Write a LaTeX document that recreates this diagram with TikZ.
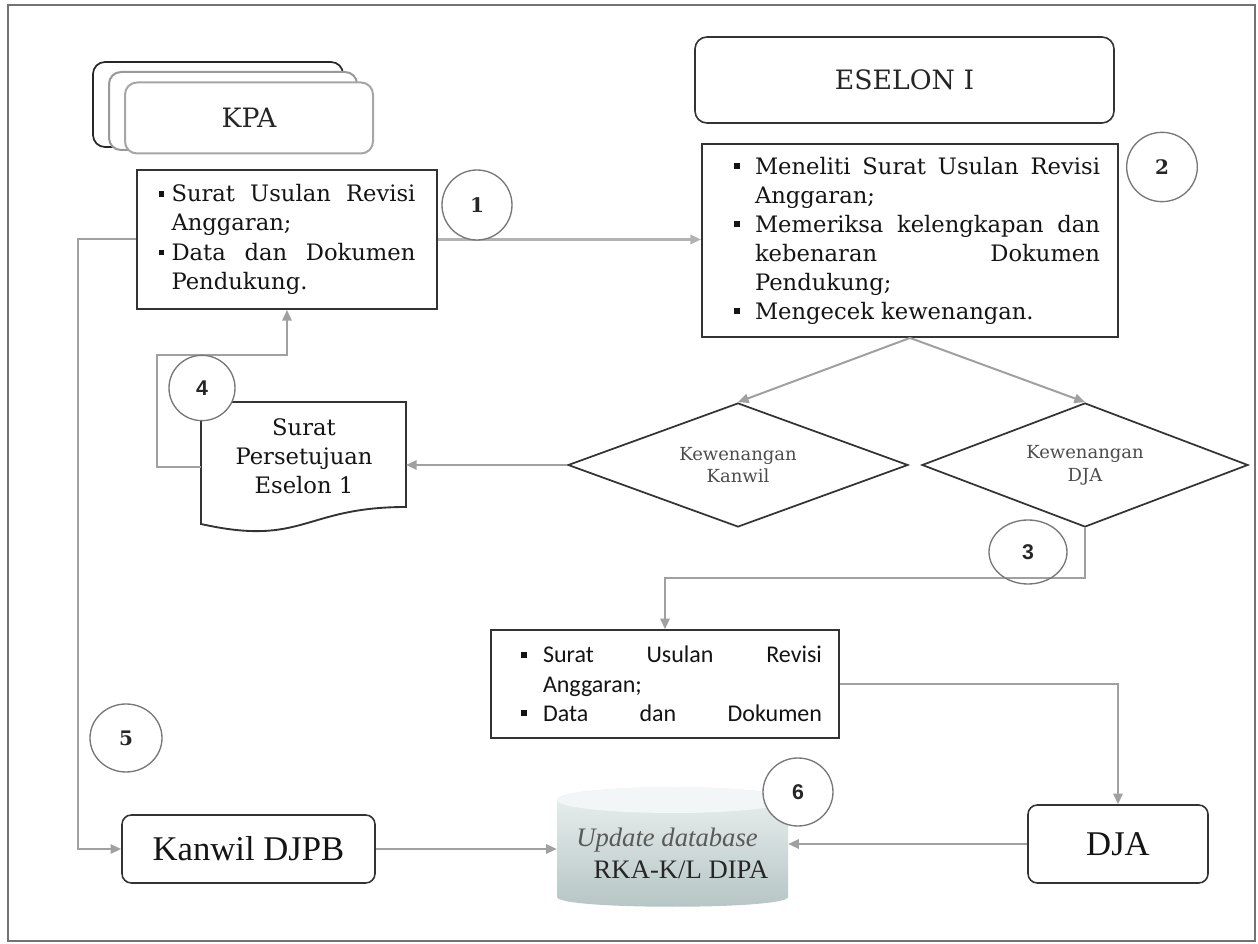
\documentclass[tikz,border=0pt]{standalone}
\usepackage{fontspec}
\usetikzlibrary{shapes.geometric,arrows.meta}
\newfontfamily\lsans{Liberation Sans}
\newfontfamily\lserif{Liberation Serif}
\newfontfamily\carlito{Carlito}
\newfontfamily\bk{DejaVu Serif}
\newcommand\bls[3]{\makebox[#1][l]{\rule[.22em]{.25em}{.25em}}\makebox[#2][s]{#3}}
\newcommand\bln[2]{\makebox[#1][l]{\rule[.22em]{.25em}{.25em}}#2}
\definecolor{linegray}{HTML}{A0A0A0}
\definecolor{boxline}{HTML}{333333}
\definecolor{numline}{HTML}{777777}
\definecolor{dbtop}{HTML}{EEF2F2}
\definecolor{dbbot}{HTML}{B5C4C4}
\tikzset{
  box/.style={draw=boxline, line width=1.4pt, fill=white, inner ysep=0pt, text=black!92},
  rbox/.style={box, rounded corners=7pt, line width=1.2pt},
  arr/.style={draw=linegray, line width=1.5pt, -{Triangle[length=8pt,width=7pt]}},
  num/.style={ellipse, draw=numline, line width=1pt, fill=white, inner sep=0pt, text=black!85},
  dia/.style={diamond, draw=boxline, line width=1.3pt, aspect=2.7, inner sep=0pt, align=center, text=black!70, font=\bk\fontsize{13.5}{17}\selectfont},
}
\begin{document}
\begin{tikzpicture}[x=0.75pt,y=-0.75pt]
\useasboundingbox (0,0) rectangle (1258,944);
\draw[draw=black!55, line width=1.2pt] (8,5) rectangle (1255,941);

% KPA stack
\draw[rounded corners=9pt, draw=black!85, line width=1.3pt, fill=white] (93,62) rectangle (343,147);
\draw[rounded corners=9pt, draw=black!40, line width=1.5pt, fill=white] (109,72) rectangle (357,150);
\node[draw=black!35, line width=1.5pt, fill=white, rounded corners=9pt, minimum width=186pt, minimum height=53.25pt, text=black!85, font=\bk\fontsize{20}{24}\selectfont] (kpa) at (249,118) {KPA};

% ESELON I
\node[rbox, rounded corners=9pt, minimum width=314.25pt, minimum height=64.5pt, text=black!85, font=\bk\fontsize{20}{24}\selectfont] (es) at (904.5,80) {ESELON I};

% Box 1
\node[box, minimum width=225pt, minimum height=104.25pt, text width=192.75pt, inner xsep=16.125pt, align=flush left, font=\bk\fontsize{17}{22}\selectfont] (b1) at (287,239.5) {%
\bls{9.75pt}{183pt}{Surat Usulan Revisi}\\
\hspace*{9.75pt}Anggaran;\\
\bls{9.75pt}{183pt}{Data dan Dokumen}\\
\hspace*{9.75pt}Pendukung.};

% Box 2
\node[box, minimum width=312pt, minimum height=144.75pt, text width=285pt, inner xsep=13.5pt, align=flush left, font=\bk\fontsize{17}{21.75}\selectfont] (b2) at (910,240.5) {%
\hspace*{10.5pt}\bls{15.75pt}{258.75pt}{Meneliti Surat Usulan Revisi}\\
\hspace*{26.25pt}Anggaran;\\
\hspace*{10.5pt}\bls{15.75pt}{258.75pt}{Memeriksa kelengkapan dan}\\
\hspace*{26.25pt}\makebox[258.75pt][s]{kebenaran Dokumen}\\
\hspace*{26.25pt}Pendukung;\\
\hspace*{10.5pt}\bln{15.75pt}{Mengecek kewenangan.}};

% Diamonds
\node[dia, minimum width=255pt, minimum height=93pt] (kan) at (738,465) {Kewenangan\\Kanwil};
\node[dia, minimum width=244.5pt, minimum height=93pt] (dja) at (1085,465) {Kewenangan\\DJA};

% Document shape
\draw[draw=boxline, line width=1.4pt, fill=white] (201,402) -- (406,402) -- (406,507) .. controls (303.5,507) and (303.5,547) .. (201,524) -- cycle;
\node[align=center, text=black!92, font=\bk\fontsize{17}{21.75}\selectfont] (doc) at (304,456) {Surat\\Persetujuan\\Eselon 1};
\coordinate (docr) at (406,465);
\coordinate (docl) at (201,467);

% Box 3
\node[box, line width=1.2pt, minimum width=261pt, minimum height=81pt, text width=235.5pt, inner xsep=12.75pt, align=flush left, font=\carlito\fontsize{18}{22}\selectfont] (b3) at (665,684) {%
\hspace*{9.75pt}\bls{16.5pt}{209.25pt}{Surat Usulan Revisi}\\
\hspace*{26.25pt}Anggaran;\\
\hspace*{9.75pt}\bls{16.5pt}{209.25pt}{Data dan Dokumen}};

% Bottom boxes
\node[rbox, minimum width=189.75pt, minimum height=51pt, font=\lserif\fontsize{26}{30}\selectfont] (kd) at (248.5,849) {Kanwil DJPB};
\node[rbox, minimum width=135pt, minimum height=58.5pt, font=\lserif\fontsize{26}{30}\selectfont] (djab) at (1118,844) {DJA};

% Database cylinder
\shade[top color=dbtop, bottom color=dbbot] (557,800) .. controls (557,783) and (788,783) .. (788,800) -- (788,897) .. controls (788,910) and (557,910) .. (557,897) -- cycle;
\fill[dbtop!70!white] (672.5,800) ellipse [x radius=115.5, y radius=13];
\node[minimum width=173.25pt, minimum height=80pt, inner sep=0pt] (db) at (672.5,845) {};
\node[text=black!65, font=\lserif\itshape\fontsize{20}{24}\selectfont] (dbt1) at (667,840) {Update database};
\node[text=black!85, font=\lserif\fontsize{20}{24}\selectfont] (dbt2) at (681,870) {RKA-K/L DIPA};

% Connectors
\draw[arr, line width=2.2pt, draw=black!30] (b1.east) -- (b1.east -| b2.west);
\draw[arr] (b2.south) -- (kan.north);
\draw[arr] (b2.south) -- (dja.north);
\draw[arr] (kan.west) -- (docr);
\draw[arr] (docl) -- (157,467) -- (157,355) -- (287,355) -- (b1.south);
\draw[arr] (b1.west) -- (78,239.5) |- (kd.west);
\draw[arr] (dja.south) -- (1085,578) -| (b3.north);
\draw[arr] (b3.east) -| (djab.north);
\draw[arr] (djab.west) -- (djab.west -| db.east);
\draw[arr] (kd.east) -- (kd.east -| db.west);

% Number circles
\node[num, minimum width=52.5pt, minimum height=52.5pt, font=\bk\bfseries\fontsize{15}{18}\selectfont] (c1) at (477,205) {1};
\node[num, minimum width=53pt, minimum height=52pt, font=\bk\bfseries\fontsize{15}{18}\selectfont] (c2) at (1162,167) {2};
\node[num, fill=none, minimum width=58.5pt, minimum height=48pt, font=\lsans\bfseries\fontsize{16}{18}\selectfont] (c3) at (1028,552) {3};
\node[num, minimum width=49.5pt, minimum height=49pt, font=\lsans\bfseries\fontsize{16}{18}\selectfont] (c4) at (202,388) {4};
\node[num, minimum width=54pt, minimum height=51pt, font=\bk\bfseries\fontsize{15}{18}\selectfont] (c5) at (126,738) {5};
\node[num, minimum width=52.5pt, minimum height=51pt, font=\lsans\bfseries\fontsize{16}{18}\selectfont] (c6) at (798,792) {6};
\end{tikzpicture}
\end{document}
